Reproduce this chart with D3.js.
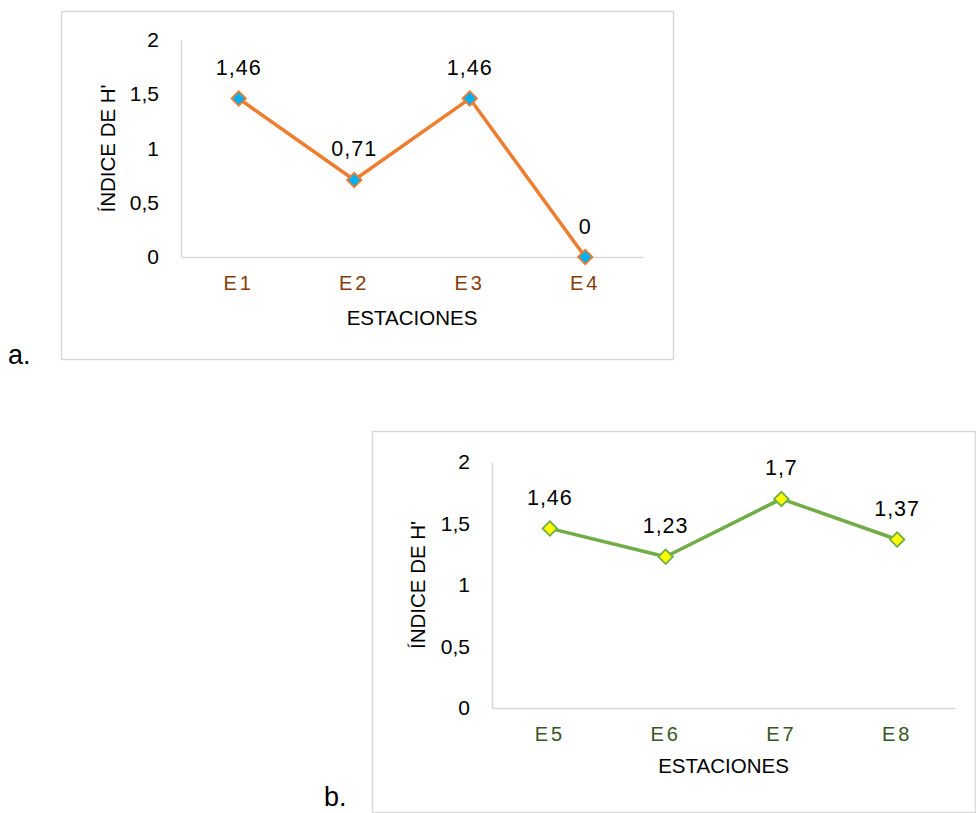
<!DOCTYPE html>
<html><head><meta charset="utf-8">
<script src="https://cdn.jsdelivr.net/npm/d3@7"></script>
<style>body{margin:0;background:#fff;} svg{display:block;font-family:"Liberation Sans",Arial,sans-serif;}</style>
</head><body>
<svg id="c" width="976" height="813"></svg>
<script>
const categoriesA = ["E1","E2","E3","E4"];
const valuesA = [1.46, 0.71, 1.46, 0];
const labelsA = ["1,46","0,71","1,46","0"];
const categoriesB = ["E5","E6","E7","E8"];
const valuesB = [1.46, 1.23, 1.7, 1.37];
const labelsB = ["1,46","1,23","1,7","1,37"];
const yTicks = [0, 0.5, 1, 1.5, 2];
const yTickLabels = ["0","0,5","1","1,5","2"];
const yTitle = "ÍNDICE DE H'";
const xTitle = "ESTACIONES";

const svg = d3.select("#c");

function chart(cfg) {
  const g = svg.append("g");
  g.append("rect").attr("x", cfg.frame[0]+0.5).attr("y", cfg.frame[1]+0.5)
    .attr("width", cfg.frame[2]).attr("height", cfg.frame[3])
    .attr("fill", "none").attr("stroke", "#d9d9d9").attr("stroke-width", 1.5);
  const x = d3.scaleBand().domain(cfg.cats).range([cfg.plot.l, cfg.plot.r]);
  const y = d3.scaleLinear().domain([0, 2]).range([cfg.plot.b, cfg.plot.t]);
  // y axis
  const ya = g.append("g").attr("transform", `translate(${cfg.plot.l},0)`)
    .call(d3.axisLeft(y).tickValues(yTicks).tickFormat((d,i)=>yTickLabels[i]).tickSize(0).tickPadding(22));
  ya.select(".domain").attr("stroke", "#d9d9d9").attr("stroke-width", 1.5);
  ya.selectAll("text").attr("font-size", 21).attr("fill", "#000").attr("font-family", "Liberation Sans, Arial, sans-serif");
  // x axis
  const xa = g.append("g").attr("transform", `translate(0,${cfg.plot.b})`)
    .call(d3.axisBottom(x).tickSize(0).tickPadding(19).tickFormat(d => d));
  xa.select(".domain").attr("stroke", "#d9d9d9").attr("stroke-width", 1.5);
  xa.selectAll("text").attr("font-size", 20).attr("fill", cfg.catColor)
    .attr("letter-spacing", "3px").attr("font-family", "Liberation Sans, Arial, sans-serif");
  // titles
  g.append("text").attr("transform", `translate(${cfg.yTitleX},${(cfg.plot.t+cfg.plot.b)/2}) rotate(-90)`)
    .attr("text-anchor", "middle").attr("dy", "0.35em").attr("font-size", 20.5).text(yTitle);
  g.append("text").attr("x", (cfg.plot.l+cfg.plot.r)/2).attr("y", cfg.xTitleY)
    .attr("text-anchor", "middle").attr("dy", "0.35em").attr("font-size", 20.5).text(xTitle);
  // line
  const line = d3.line().x((d,i)=>x(cfg.cats[i])+x.bandwidth()/2).y(d=>y(d));
  g.append("path").datum(cfg.vals).attr("d", line).attr("fill", "none")
    .attr("stroke", cfg.lineColor).attr("stroke-width", 3.5).attr("stroke-linejoin", "round");
  // markers
  g.selectAll(".m").data(cfg.vals).join("path")
    .attr("d", d3.symbol(d3.symbolSquare, 105)())
    .attr("transform", (d,i)=>`translate(${x(cfg.cats[i])+x.bandwidth()/2},${y(d)}) rotate(45)`)
    .attr("fill", cfg.markerFill).attr("stroke", cfg.lineColor).attr("stroke-width", 1.8);
  // data labels
  g.selectAll(".l").data(cfg.vals).join("text")
    .attr("x", (d,i)=>x(cfg.cats[i])+x.bandwidth()/2).attr("y", d=>y(d)-31)
    .attr("dy", "0.35em").attr("text-anchor", "middle").attr("font-size", 21.5).attr("letter-spacing", "1px")
    .text((d,i)=>cfg.labels[i]);
  g.append("text").attr("x", cfg.tag[0]).attr("y", cfg.tag[1]).attr("font-size", 27).text(cfg.tagText);
}

chart({cats: categoriesA, vals: valuesA, labels: labelsA,
  frame: [61, 11, 612, 348], plot: {l:181, r:643, t:40, b:257},
  catColor: "#843c0c", lineColor: "#ed7d31", markerFill: "#00b0f0",
  yTitleX: 108, xTitleY: 318, tag: [8, 364], tagText: "a."});
chart({cats: categoriesB, vals: valuesB, labels: labelsB,
  frame: [372, 431, 603, 381], plot: {l:492, r:955, t:462, b:708},
  catColor: "#375623", lineColor: "#70ad47", markerFill: "#ffff00",
  yTitleX: 418, xTitleY: 766, tag: [324, 806], tagText: "b."});
</script>
</body></html>
